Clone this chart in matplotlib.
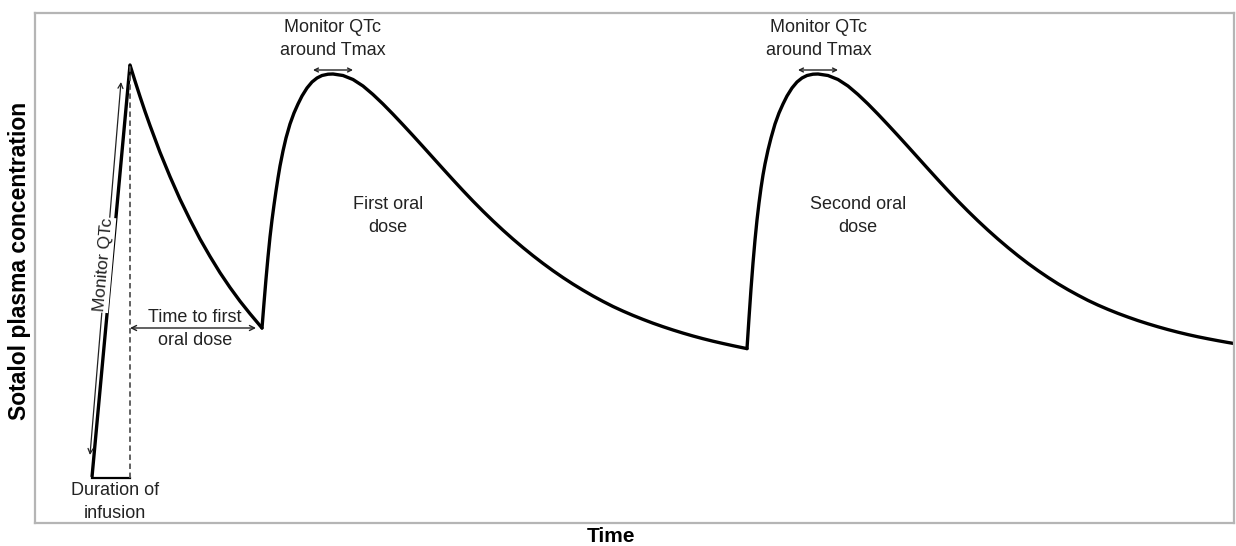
import matplotlib
matplotlib.use("Agg")
import matplotlib.pyplot as plt

plt.rcParams['font.family'] = ['Liberation Sans', 'DejaVu Sans']

# ---- data (time and concentration in arbitrary units) ----
infusion_time = [92, 130]
infusion_conc = [46, 458]

decay1_time = [130, 135, 140, 145, 150, 160, 170, 180, 190, 200, 210, 220, 230, 240, 250, 262]
decay1_conc = [458, 442, 426.5, 411.6, 397.5, 370.7, 346.4, 323.8, 303.3, 284, 266.6, 250.3,
               235.5, 221.8, 209.3, 195]

dose1_time = [262, 264, 266, 268, 270, 272, 274, 276, 278, 280, 283, 286, 290, 294, 298, 302,
              307, 312, 317, 322, 328,
              333, 343, 353, 363, 373, 383, 393, 403, 413, 423, 433, 443, 453, 463, 473, 483,
              493, 503, 513, 523, 533, 543, 553, 563, 573, 583, 593, 603, 613, 623, 633, 643,
              653, 663, 673, 683, 693, 703, 713, 723, 733, 743, 747]
dose1_conc = [195, 220, 244, 266, 286, 303, 318, 332, 345, 357, 372, 385, 399, 410, 419, 427,
              435, 441, 445, 447.5, 448.8,
              449, 447.5, 443.5, 437, 428.5, 419, 408.8, 398.2, 387.4, 376.4, 365.3, 354.2,
              343.2, 332.4, 321.9, 311.8, 302.1, 292.8, 283.9, 275.4, 267.3, 259.6, 252.3,
              245.4, 238.9, 232.8, 227, 221.6, 216.5, 211.9, 207.6, 203.6, 199.8, 196.3, 193,
              189.9, 187, 184.3, 181.8, 179.5, 177.3, 175.2, 174.4]

dose2_time = [747, 749, 751, 753, 755, 757, 759, 761, 763, 765, 768, 771, 775, 779, 783, 787,
              792, 797, 802, 807, 813,
              818, 828, 838, 848, 858, 868, 878, 888, 898, 908, 918, 928, 938, 948, 958, 968,
              978, 988, 998, 1008, 1018, 1028, 1038, 1048, 1058, 1068, 1078, 1088, 1098, 1108,
              1118, 1128, 1138, 1148, 1158, 1168, 1178, 1188, 1198, 1208, 1218, 1228, 1234]
dose2_conc = [174.4, 205, 234, 260, 283, 303, 320, 335, 348, 359, 373, 385, 399, 410, 419, 427,
              435, 441, 445, 447.5, 448.8,
              449, 447.5, 443.5, 437, 428.5, 419, 408.8, 398.2, 387.4, 376.4, 365.3, 354.2,
              343.2, 332.4, 321.9, 311.8, 302.1, 292.8, 283.9, 275.4, 267.3, 259.6, 252.4,
              245.6, 239.2, 233.3, 227.8, 222.6, 217.9, 213.6, 209.6, 205.9, 202.4, 199.2,
              196.2, 193.4, 190.8, 188.4, 186.2, 184.2, 182.3, 180.5, 179.5]

fig = plt.figure(figsize=(12.36, 5.46), dpi=100)
ax = fig.add_axes([35 / 1236, 1 - 523 / 546, 1199 / 1236, 510 / 546])
ax.set_xlim(35, 1234)
ax.set_ylim(0, 510)

lw_main = 2.4
ax.plot(infusion_time, infusion_conc, color='black', lw=lw_main, solid_capstyle='butt')
for t, c in [(decay1_time, decay1_conc), (dose1_time, dose1_conc), (dose2_time, dose2_conc)]:
    ax.plot(t, c, color='black', lw=lw_main, solid_joinstyle='round', solid_capstyle='round')

# infusion bracket
ax.plot([92, 130], [45, 45], color='black', lw=1.6)
ax.plot([130, 130], [45, 458], color='#555555', lw=1.3, ls=(0, (3, 2)))

fs = 13
ax.text(115, 21, 'Duration of\ninfusion', ha='center', va='center', fontsize=fs,
        linespacing=1.4, color='#222222')

# Monitor QTc along infusion
ax.annotate('', xy=(121, 441), xytext=(90, 68),
            arrowprops=dict(arrowstyle='<->', lw=0.9, color='#222222', mutation_scale=9,
                            shrinkA=0, shrinkB=0))
ax.text(104, 258, 'Monitor QTc', rotation=85, ha='center', va='center', fontsize=12.5,
        color='#222222', bbox=dict(facecolor='white', edgecolor='none', pad=0.5))

# Time to first oral dose
ax.annotate('', xy=(256, 195), xytext=(130, 195),
            arrowprops=dict(arrowstyle='<->', lw=1.0, color='#222222', mutation_scale=9,
                            shrinkA=0, shrinkB=0))
ax.text(195, 194, 'Time to first\noral dose', ha='center', va='center', fontsize=fs,
        linespacing=1.5, color='#222222')

# Monitor QTc around Tmax
for cx, x0, x1 in [(333, 313, 353), (819, 798, 838)]:
    ax.annotate('', xy=(x1, 453), xytext=(x0, 453),
                arrowprops=dict(arrowstyle='<->', lw=1.0, color='#222222', mutation_scale=7,
                                shrinkA=0, shrinkB=0))
    ax.text(cx, 484, 'Monitor QTc\naround Tmax', ha='center', va='center', fontsize=fs,
            linespacing=1.4, color='#222222')

ax.text(388, 307, 'First oral\ndose', ha='center', va='center', fontsize=fs,
        linespacing=1.4, color='#222222')
ax.text(858, 307, 'Second oral\ndose', ha='center', va='center', fontsize=fs,
        linespacing=1.4, color='#222222')

ax.set_xticks([])
ax.set_yticks([])
for s in ax.spines.values():
    s.set_color('#b5b5b5')
    s.set_linewidth(1.6)

ax.set_ylabel('Sotalol plasma concentration', fontsize=16.5, fontweight='bold')
ax.yaxis.set_label_coords(-15 / 1199, (523 - 261) / 510)
ax.set_xlabel('Time', fontsize=15, fontweight='bold')
ax.xaxis.set_label_coords((611 - 35) / 1199, -(537 - 523) / 510)
ax.yaxis.label.set_va('center')
ax.xaxis.label.set_va('center')

fig.savefig('out.png', dpi=100)
